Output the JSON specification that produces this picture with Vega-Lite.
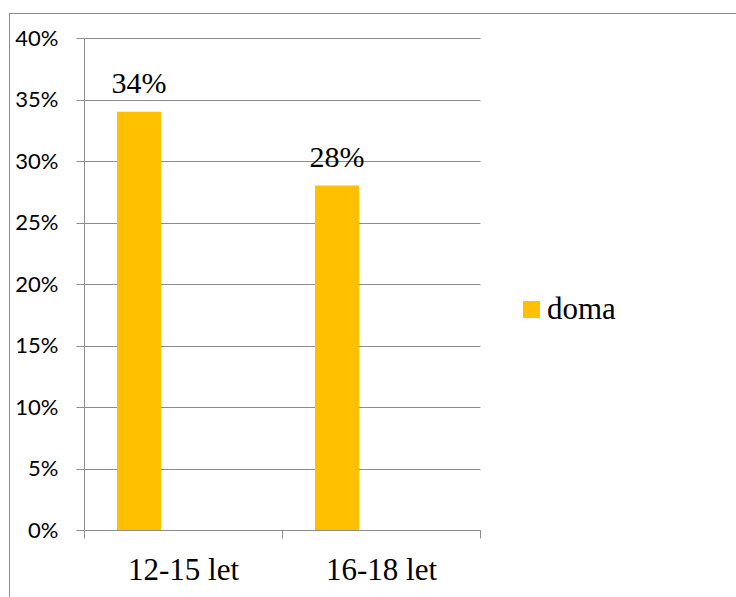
{
  "$schema": "https://vega.github.io/schema/vega-lite/v6.json",
  "autosize": {"type": "none"},
  "padding": {"left": 9, "top": 13, "right": 0, "bottom": 0},
  "width": 727,
  "height": 584,
  "background": "white",
  "config": {
    "view": {"stroke": "#8c8c8c", "strokeWidth": 1},
    "text": {"font": "Liberation Serif"},
    "axis": {
      "domainColor": "#8c8c8c",
      "tickColor": "#8c8c8c",
      "gridColor": "#8c8c8c",
      "domainWidth": 1,
      "tickWidth": 1,
      "gridWidth": 1,
      "labelColor": "#000000",
      "title": null
    }
  },
  "data": {
    "values": [
      {"cat": "12-15 let", "serie": "doma", "value": 0.34},
      {"cat": "16-18 let", "serie": "doma", "value": 0.28}
    ]
  },
  "encoding": {
    "x": {
      "field": "cat",
      "type": "nominal",
      "sort": null,
      "scale": {"range": [75, 471], "paddingInner": 0, "paddingOuter": 0},
      "axis": {
        "orient": "bottom",
        "offset": -67,
        "labelAngle": 0,
        "tickBand": "extent",
        "tickSize": 8,
        "labelFont": "Liberation Serif",
        "labelFontSize": 31,
        "labelBaseline": "alphabetic",
        "labelPadding": 41,
        "grid": false
      }
    },
    "xOffset": {
      "field": "serie",
      "type": "nominal",
      "scale": {"domain": ["doma", "s2", "s3"], "paddingInner": 0, "paddingOuter": 0.75}
    },
    "y": {
      "field": "value",
      "type": "quantitative",
      "scale": {"domain": [0, 0.4], "nice": false, "range": [517, 25]},
      "axis": {
        "orient": "left",
        "offset": -75,
        "values": [0, 0.05, 0.1, 0.15, 0.2, 0.25, 0.3, 0.35, 0.4],
        "format": ".0%",
        "tickSize": 8,
        "labelFont": "Lato",
        "labelFontSize": 22,
        "labelPadding": 18,
        "grid": true
      }
    }
  },
  "layer": [
    {
      "mark": {"type": "bar", "color": "#FFC000"},
      "encoding": {
        "color": {
          "field": "serie",
          "type": "nominal",
          "scale": {"domain": ["doma"], "range": ["#FFC000"]},
          "legend": {
            "orient": "none",
            "legendX": 507,
            "legendY": 281,
            "title": null,
            "symbolType": "square",
            "symbolSize": 289,
            "symbolStrokeWidth": 0,
            "symbolOpacity": 1,
            "labelFont": "Liberation Serif",
            "labelFontSize": 31,
            "labelColor": "#000000",
            "labelOffset": 0,
            "padding": 0
          }
        }
      }
    },
    {
      "mark": {
        "type": "text",
        "font": "Liberation Serif",
        "fontSize": 30,
        "baseline": "alphabetic",
        "align": "center",
        "dy": -19,
        "color": "#000000"
      },
      "encoding": {
        "text": {"field": "value", "type": "quantitative", "format": ".0%"}
      }
    }
  ]
}
